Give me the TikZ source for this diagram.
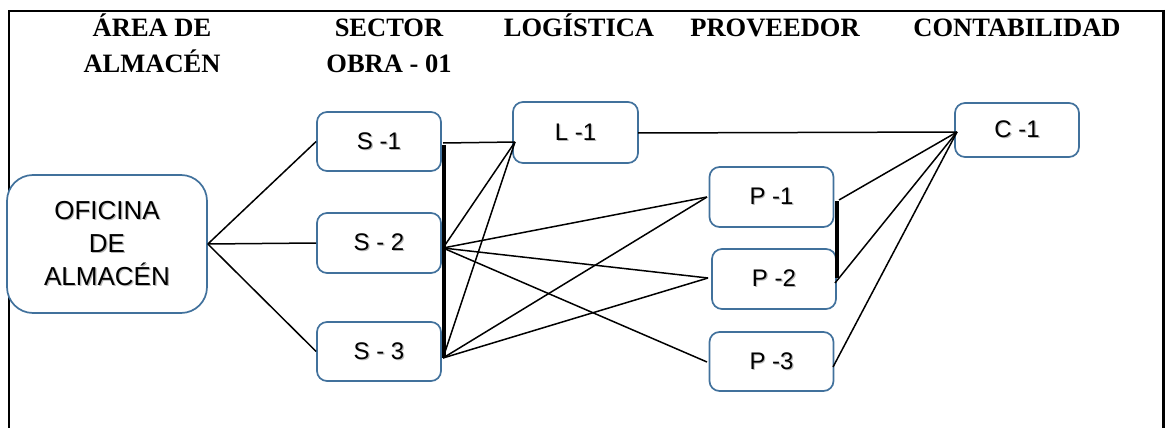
\documentclass[tikz,border=0pt]{standalone}
\usepackage{fontspec}
\setmainfont{Liberation Serif}
\setsansfont{Liberation Sans}
\usetikzlibrary{calc}
\definecolor{boxblue}{RGB}{65,113,156}
\newcommand\shtx[1]{\leavevmode\rlap{\kern1.2pt\raisebox{-1.2pt}{\textcolor{black!28}{#1}}}#1}
\begin{document}
\begin{tikzpicture}[x=1pt,y=-1pt,
  box/.style={draw=boxblue,line width=1.7pt,fill=white,rounded corners=10pt,
    minimum width=124pt,minimum height=59pt,inner sep=0pt,
    font=\sffamily\fontsize{24}{28}\selectfont},
  head/.style={font=\bfseries\fontsize{26.5}{36}\selectfont,align=center,anchor=base,inner sep=0pt},
  con/.style={line width=1.5pt,black},
  bus/.style={line width=3.5pt,black}]
\useasboundingbox (0,0) rectangle (1165,428);
% frame
\draw[line width=2pt] (9,428) -- (9,11) -- (1163,11);
\draw[line width=3pt] (1163,10) -- (1163,428);
% headers (base anchor = baseline of last line)
\node[head] (h1) at (152,73) {ÁREA DE\\ALMACÉN};
\node[head] (h2) at (389,73) {SECTOR\\OBRA - 01};
\node[head] (h3) at (579,37) {LOGÍSTICA};
\node[head] (h4) at (775,37) {PROVEEDOR};
\node[head] (h5) at (1017,37) {CONTABILIDAD};
% nodes
\node[box,minimum width=200pt,minimum height=138pt,rounded corners=26pt,
  font=\sffamily\fontsize{26}{33}\selectfont,align=center] (of) at (107,244)
  {\shtx{OFICINA}\\\shtx{DE}\\\shtx{ALMACÉN}};
\node[box] (s1) at (379,141.5) {\shtx{S -1}};
\node[box,minimum height=60pt] (s2) at (379,243) {\shtx{S - 2}};
\node[box] (s3) at (379,351.5) {\shtx{S - 3}};
\node[box,minimum width=125pt,minimum height=61pt] (l1) at (575.5,132.5) {\shtx{L -1}};
\node[box,minimum height=60pt] (p1) at (771.5,197) {\shtx{P -1}};
\node[box,minimum height=60pt] (p2) at (774,279) {\shtx{P -2}};
\node[box,minimum height=59pt] (p3) at (771.5,361.5) {\shtx{P -3}};
\node[box,minimum height=54pt] (c1) at (1017,130) {\shtx{C -1}};
% junction coordinates
\coordinate (sb1) at (443,143);
\coordinate (sb2) at (443,248);
\coordinate (sb3) at (443,358);
\coordinate (lin) at (515,142);
\coordinate (p1in) at (707,197);
\coordinate (p2in) at (708,278);
\coordinate (p3in) at (707,362);
\coordinate (p1out) at (839,200);
\coordinate (p2out) at (835,283);
\coordinate (p3out) at (833,367);
\coordinate (cin) at (957,132);
\coordinate (lout) at (638,133);
% buses
\draw[bus] (444,145) -- (444,358);
\draw[bus] (837,201) -- (837,278);
% connectors
\draw[con] (of.east) -- (s1.west);
\draw[con] (of.east) -- (s2.west);
\draw[con] (of.east) -- (s3.west);
\draw[con] (sb1) -- (lin);
\draw[con] (sb2) -- (lin);
\draw[con] (sb2) -- (p1in);
\draw[con] (sb2) -- (p2in);
\draw[con] (sb2) -- (p3in);
\draw[con] (sb3) -- (lin);
\draw[con] (sb3) -- (p1in);
\draw[con] (sb3) -- (p2in);
\draw[con] (lout) -- (cin);
\draw[con] (p1out) -- (cin);
\draw[con] (p2out) -- (cin);
\draw[con] (p3out) -- (cin);
\end{tikzpicture}
\end{document}
